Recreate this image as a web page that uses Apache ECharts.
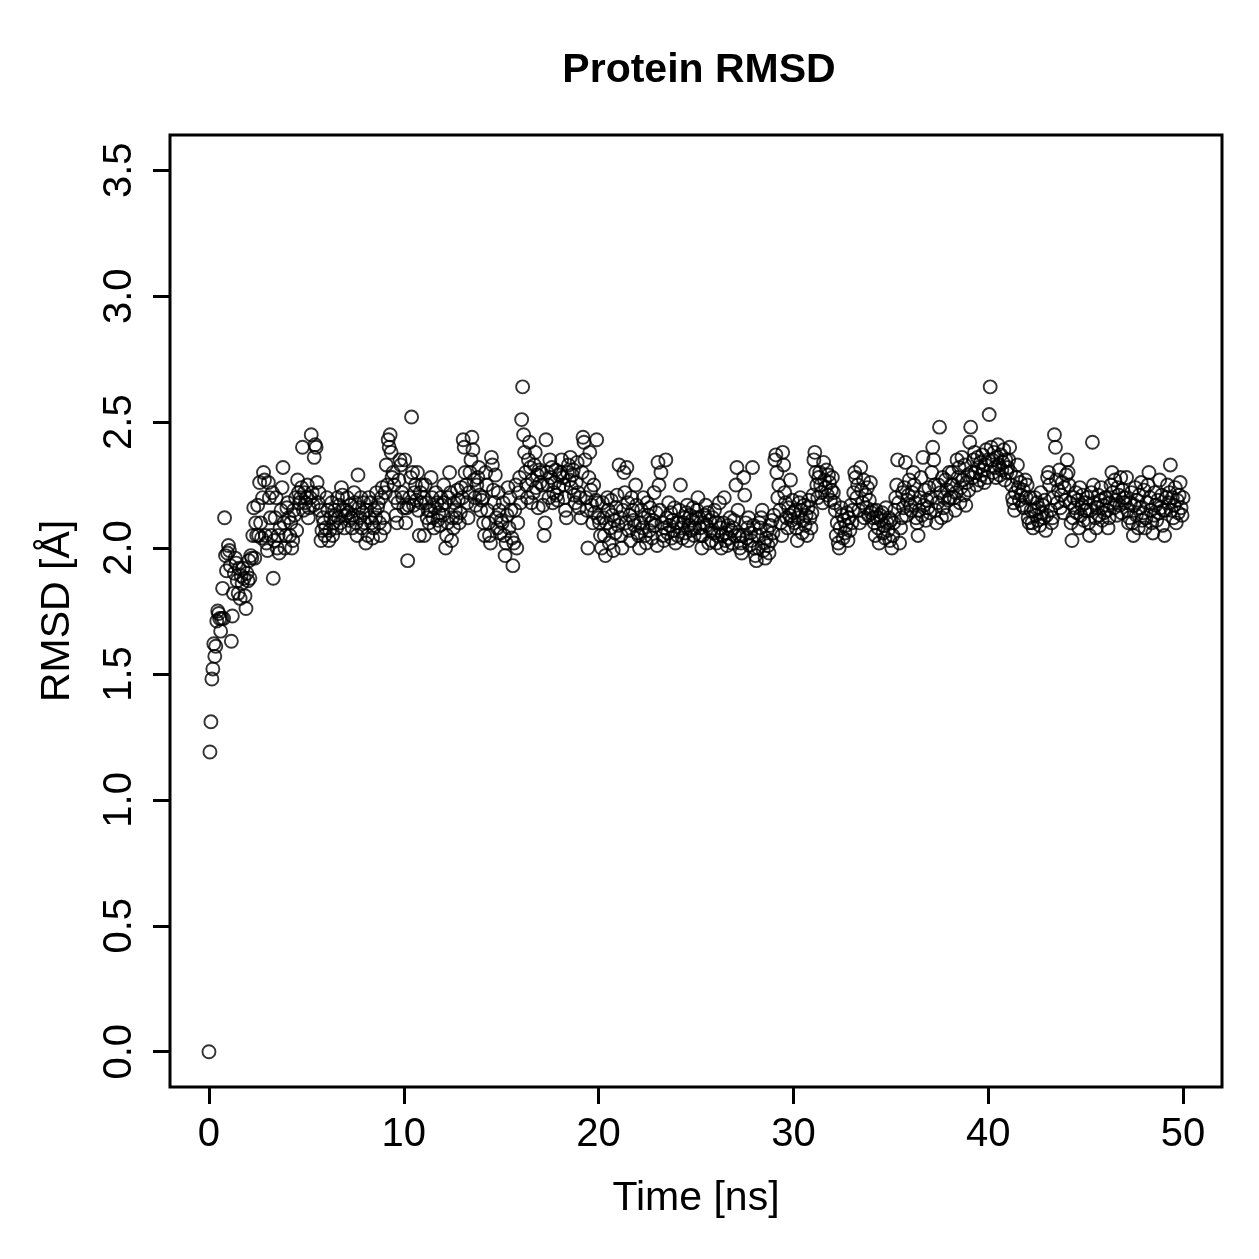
<!DOCTYPE html>
<html>
<head>
<meta charset="utf-8">
<title>Protein RMSD</title>
<script src="https://cdn.jsdelivr.net/npm/echarts@6/dist/echarts.min.js"></script>
<style>
  html, body { margin: 0; padding: 0; background: #fff; }
  #rmsd-chart { width: 1259px; height: 1259px; }
</style>
</head>
<body>
<div id="rmsd-chart"></div>
<script>
// time step between frames (ns)
const timeStep = 0.05;

const xTicks = [0, 10, 20, 30, 40, 50];
const yTicks = [0, 0.5, 1, 1.5, 2, 2.5, 3, 3.5];

// RMSD in angstrom, one frame every 0.05 ns (one row = 1 ns)
const rmsd = [0.00,
  1.19,1.31,1.48,1.52,1.62,1.57,1.61,1.71,1.75,1.74,1.72,1.67,1.72,1.84,1.72,2.12,1.97,1.91,1.98,2.01,
  1.99,1.93,1.63,1.73,1.82,1.90,1.96,1.94,1.87,1.82,1.92,1.80,1.89,1.86,1.92,1.88,1.81,1.76,1.90,1.87,
  1.95,1.88,1.97,1.96,2.05,2.16,1.96,2.10,2.05,2.17,2.05,2.26,2.10,2.04,2.20,2.30,2.27,2.05,2.02,1.99,
  2.26,2.20,2.12,2.05,2.22,1.88,2.03,2.12,2.20,2.00,2.05,1.98,2.08,2.15,2.24,2.32,2.10,2.00,2.05,2.16,
  2.18,2.12,2.05,2.10,2.00,2.03,2.15,2.13,2.20,2.07,2.27,2.22,2.18,2.20,2.24,2.40,2.15,2.22,2.18,2.20,
  2.25,2.12,2.16,2.20,2.45,2.22,2.17,2.36,2.41,2.40,2.26,2.18,2.22,2.15,2.03,2.07,2.12,2.10,2.05,2.08,
  2.20,2.15,2.03,2.07,2.12,2.18,2.05,2.10,2.15,2.13,2.08,2.20,2.12,2.17,2.10,2.24,2.21,2.15,2.08,2.13,
  2.15,2.20,2.14,2.11,2.17,2.12,2.08,2.13,2.22,2.18,2.10,2.05,2.29,2.16,2.12,2.20,2.08,2.14,2.18,2.10,
  2.02,2.15,2.05,2.20,2.12,2.18,2.10,2.04,2.08,2.15,2.12,2.22,2.16,2.18,2.10,2.05,2.20,2.24,2.12,2.08,
  2.22,2.33,2.25,2.43,2.40,2.45,2.38,2.28,2.30,2.25,2.20,2.13,2.10,2.18,2.27,2.35,2.33,2.22,2.20,2.16,
  2.35,2.10,2.16,1.95,2.17,2.20,2.28,2.52,2.30,2.17,2.22,2.25,2.19,2.30,2.15,2.05,2.22,2.18,2.25,2.20,
  2.05,2.25,2.18,2.12,2.15,2.10,2.15,2.28,2.20,2.12,2.08,2.16,2.22,2.18,2.11,2.14,2.09,2.20,2.17,2.13,
  2.25,2.18,2.00,2.05,2.10,2.20,2.30,2.22,2.03,2.12,2.08,2.18,2.15,2.12,2.23,2.19,2.10,2.14,2.24,2.20,
  2.43,2.40,2.30,2.25,2.18,2.12,2.22,2.30,2.35,2.44,2.39,2.27,2.20,2.17,2.25,2.28,2.32,2.21,2.15,2.19,
  2.20,2.10,2.05,2.30,2.25,2.15,2.10,2.05,2.02,2.36,2.33,2.23,2.18,2.29,2.12,2.08,2.22,2.15,2.06,2.11,
  2.10,2.18,2.05,1.97,2.02,2.13,2.24,2.08,2.20,2.15,2.04,1.93,2.02,2.15,2.25,2.00,2.10,2.22,2.28,2.18,
  2.51,2.64,2.45,2.38,2.30,2.25,2.20,2.35,2.42,2.32,2.18,2.27,2.22,2.33,2.38,2.24,2.29,2.16,2.31,2.26,
  2.30,2.25,2.17,2.05,2.10,2.43,2.30,2.25,2.20,2.35,2.28,2.32,2.18,2.22,2.26,2.31,2.21,2.19,2.24,2.29,
  2.30,2.35,2.28,2.25,2.20,2.15,2.12,2.30,2.33,2.27,2.36,2.24,2.29,2.31,2.21,2.18,2.26,2.34,2.22,2.16,
  2.20,2.12,2.30,2.44,2.42,2.35,2.20,2.15,2.00,2.28,2.38,2.23,2.17,2.10,2.25,2.14,2.19,2.43,2.18,2.12,
  2.10,2.05,2.00,2.18,2.12,2.05,1.97,2.10,2.20,2.15,2.02,2.08,2.19,2.13,1.99,2.11,2.06,2.16,2.21,2.09,
  2.33,2.12,2.05,2.00,2.15,2.30,2.22,2.10,2.32,2.18,2.07,2.13,2.03,2.20,2.15,2.11,2.09,2.25,2.17,2.06,
  2.05,2.00,2.10,2.15,2.08,2.20,2.12,2.05,2.02,2.18,2.13,2.07,2.16,2.10,2.04,2.11,2.22,2.09,2.14,2.01,
  2.34,2.25,2.15,2.30,2.10,2.05,2.03,2.08,2.35,2.12,2.06,2.18,2.09,2.14,2.04,2.11,2.07,2.16,2.02,2.10,
  2.05,2.10,2.15,2.25,2.08,2.04,2.10,2.12,2.06,2.14,2.17,2.03,2.09,2.13,2.07,2.11,2.16,2.05,2.08,2.12,
  2.15,2.20,2.12,2.08,2.05,2.00,2.05,2.10,2.13,2.17,2.09,2.14,2.02,2.11,2.07,2.03,2.12,2.06,2.15,2.10,
  2.02,2.05,2.10,2.18,2.08,2.00,2.05,2.10,2.20,2.03,2.06,2.01,2.09,2.04,2.12,2.07,2.02,2.08,2.11,2.05,
  2.25,2.32,2.15,2.05,2.00,2.02,1.98,2.05,2.28,2.21,2.10,2.04,2.08,2.12,2.01,2.06,2.03,2.32,2.09,2.00,
  1.97,1.95,2.05,2.00,2.10,2.08,2.12,2.15,1.99,2.02,1.96,2.04,2.07,2.01,1.98,2.09,2.03,2.11,2.06,2.13,
  2.35,2.37,2.30,2.20,2.25,2.15,2.10,2.05,2.38,2.33,2.22,2.18,2.12,2.08,2.16,2.13,2.27,2.11,2.19,2.14,
  2.10,2.15,2.08,2.03,2.12,2.18,2.20,2.15,2.06,2.11,2.17,2.09,2.13,2.05,2.16,2.19,2.12,2.08,2.14,2.21,
  2.35,2.38,2.30,2.25,2.20,2.28,2.30,2.25,2.22,2.18,2.34,2.27,2.24,2.31,2.21,2.29,2.26,2.19,2.23,2.28,
  2.22,2.18,2.15,2.05,2.10,2.02,2.00,2.08,2.16,2.13,2.04,2.11,2.06,2.09,2.14,2.03,2.12,2.07,2.17,2.10,
  2.15,2.22,2.30,2.28,2.20,2.25,2.15,2.10,2.32,2.23,2.18,2.27,2.12,2.21,2.16,2.24,2.13,2.19,2.26,2.14,
  2.15,2.12,2.10,2.05,2.15,2.12,2.08,2.02,2.13,2.11,2.14,2.06,2.09,2.04,2.16,2.10,2.07,2.12,2.03,2.11,
  2.00,2.05,2.10,2.15,2.20,2.25,2.35,2.18,2.02,2.08,2.12,2.22,2.16,2.24,2.34,2.13,2.19,2.21,2.27,2.17,
  2.15,2.22,2.30,2.25,2.18,2.12,2.10,2.05,2.15,2.20,2.28,2.13,2.36,2.17,2.23,2.11,2.19,2.16,2.24,2.14,
  2.20,2.30,2.40,2.35,2.25,2.15,2.10,2.18,2.25,2.48,2.22,2.12,2.28,2.16,2.20,2.27,2.13,2.23,2.19,2.30,
  2.20,2.25,2.30,2.25,2.20,2.15,2.22,2.35,2.28,2.32,2.18,2.24,2.36,2.27,2.21,2.33,2.17,2.26,2.29,2.23,
  2.42,2.48,2.30,2.28,2.35,2.38,2.30,2.25,2.36,2.32,2.27,2.34,2.29,2.37,2.31,2.26,2.33,2.39,2.28,2.35,
  2.53,2.64,2.40,2.35,2.30,2.38,2.32,2.28,2.36,2.41,2.33,2.29,2.37,2.31,2.34,2.39,2.27,2.35,2.30,2.32,
  2.35,2.40,2.30,2.25,2.20,2.18,2.15,2.22,2.28,2.33,2.24,2.19,2.26,2.21,2.17,2.23,2.16,2.27,2.20,2.25,
  2.12,2.10,2.20,2.15,2.10,2.08,2.15,2.20,2.13,2.18,2.11,2.16,2.09,2.22,2.14,2.17,2.12,2.19,2.07,2.13,
  2.28,2.30,2.25,2.15,2.10,2.12,2.20,2.45,2.40,2.27,2.18,2.23,2.31,2.16,2.21,2.26,2.14,2.24,2.19,2.29,
  2.35,2.30,2.25,2.18,2.10,2.03,2.12,2.20,2.16,2.22,2.14,2.19,2.08,2.24,2.13,2.17,2.21,2.11,2.15,2.18,
  2.15,2.20,2.10,2.05,2.15,2.22,2.42,2.25,2.18,2.12,2.08,2.16,2.21,2.13,2.19,2.24,2.11,2.17,2.14,2.20,
  2.20,2.15,2.08,2.12,2.18,2.25,2.30,2.22,2.16,2.27,2.19,2.13,2.24,2.21,2.17,2.28,2.14,2.23,2.20,2.18,
  2.20,2.28,2.15,2.10,2.12,2.18,2.22,2.10,2.05,2.17,2.24,2.13,2.19,2.08,2.21,2.16,2.26,2.11,2.14,2.23,
  2.08,2.12,2.18,2.25,2.30,2.20,2.15,2.10,2.06,2.13,2.22,2.17,2.11,2.19,2.14,2.27,2.16,2.21,2.09,2.15,
  2.05,2.15,2.20,2.25,2.18,2.22,2.33,2.15,2.20,2.12,2.17,2.24,2.10,2.19,2.14,2.21,2.26,2.16,2.13,2.20
];

const points = rmsd.map((v, i) => [Number((i * timeStep).toFixed(2)), v]);

const chartDom = document.getElementById("rmsd-chart");
const chart = echarts.init(chartDom);

const font = "'Liberation Sans', Arial, Helvetica, sans-serif";

let option = {
    animation: false,
    backgroundColor: '#fff',
    title: {
        text: 'Protein RMSD',
        left: 694,
        top: 45,
        textAlign: 'center',
        textStyle: {
            fontFamily: font,
            fontWeight: 'bold',
            fontSize: 41,
            color: '#000'
        }
    },
    grid: {
        left: 170,
        right: 37,
        top: 135,
        bottom: 172,
        show: true,
        borderColor: '#000',
        borderWidth: 3,
        backgroundColor: 'transparent'
    },
    xAxis: {
        type: 'value',
        min: -2,
        max: 52,
        name: 'Time [ns]',
        nameLocation: 'middle',
        nameGap: 91,
        nameTextStyle: { fontFamily: font, fontSize: 41, color: '#000' },
        axisLine: { show: false, onZero: false },
        splitLine: { show: false },
        axisTick: {
            show: true,
            inside: false,
            length: 17,
            customValues: xTicks,
            lineStyle: { color: '#000', width: 3 }
        },
        axisLabel: {
            customValues: xTicks,
            margin: 28,
            fontFamily: font,
            fontSize: 40,
            color: '#000'
        }
    },
    yAxis: {
        type: 'value',
        min: -0.14,
        max: 3.64,
        name: 'RMSD [Å]',
        nameLocation: 'middle',
        nameGap: 92,
        nameTextStyle: { fontFamily: font, fontSize: 41, color: '#000' },
        axisLine: { show: false, onZero: false },
        splitLine: { show: false },
        axisTick: {
            show: true,
            inside: false,
            length: 17,
            customValues: yTicks,
            lineStyle: { color: '#000', width: 3 }
        },
        axisLabel: {
            customValues: yTicks,
            rotate: 90,
            margin: 30,
            fontFamily: font,
            fontSize: 40,
            color: '#000',
            formatter: (v) => v.toFixed(1)
        }
    },
    series: [{
        type: 'scatter',
        data: points,
        symbol: 'circle',
        symbolSize: 13,
        itemStyle: {
            color: 'rgba(0,0,0,0)',
            borderColor: '#000',
            borderWidth: 1.9
        }
    }]
};

if (option && typeof option === 'object') {
    chart.setOption(option);
}
</script>
</body>
</html>
